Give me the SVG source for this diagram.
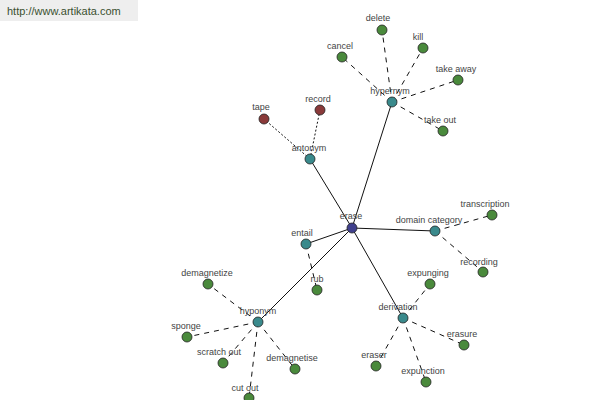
<svg xmlns="http://www.w3.org/2000/svg" width="600" height="400" viewBox="0 0 600 400">
<style>
text{font-family:"Liberation Sans",Arial,sans-serif;font-size:9px;fill:#444;text-anchor:middle}
.hdr{font-size:11px;fill:#3a5030;text-anchor:start}
circle{stroke:#222;stroke-width:0.8}
.root{fill:#40408c}
.hub{fill:#3a8a8c}
.leaf{fill:#4a8a3c}
.ant{fill:#8a3a3a}
.solid{stroke:#111;stroke-width:1;fill:none}
.dash{stroke:#111;stroke-width:1;stroke-dasharray:5,5;fill:none}
.dot{stroke:#111;stroke-width:1;stroke-dasharray:2,2;fill:none}
</style>
<rect width="600" height="400" fill="#fff"/>
<rect x="0" y="0" width="138" height="21" fill="#eeeeee"/>
<text class="hdr" x="7" y="15">http://www.artikata.com</text>
<g id="connectors">
<line class="solid" x1="352" y1="228" x2="392" y2="102"/>
<line class="solid" x1="352" y1="228" x2="310" y2="159"/>
<line class="solid" x1="352" y1="228" x2="435" y2="231"/>
<line class="solid" x1="352" y1="228" x2="306" y2="244"/>
<line class="solid" x1="352" y1="228" x2="258" y2="322"/>
<line class="solid" x1="352" y1="228" x2="403" y2="318"/>
<line class="dash" x1="392" y1="102" x2="382" y2="30"/>
<line class="dash" x1="392" y1="102" x2="423" y2="48"/>
<line class="dash" x1="392" y1="102" x2="342" y2="57"/>
<line class="dash" x1="392" y1="102" x2="458" y2="80"/>
<line class="dash" x1="392" y1="102" x2="443" y2="131"/>
<line class="dot" x1="310" y1="159" x2="264" y2="119"/>
<line class="dot" x1="310" y1="159" x2="320" y2="110"/>
<line class="dash" x1="435" y1="231" x2="492" y2="215"/>
<line class="dash" x1="435" y1="231" x2="483" y2="272"/>
<line class="dash" x1="306" y1="244" x2="317" y2="290"/>
<line class="dash" x1="258" y1="322" x2="208" y2="284"/>
<line class="dash" x1="258" y1="322" x2="187" y2="337"/>
<line class="dash" x1="258" y1="322" x2="223" y2="363"/>
<line class="dash" x1="258" y1="322" x2="295" y2="369"/>
<line class="dash" x1="258" y1="322" x2="249" y2="398"/>
<line class="dash" x1="403" y1="318" x2="430" y2="284"/>
<line class="dash" x1="403" y1="318" x2="464" y2="345"/>
<line class="dash" x1="403" y1="318" x2="376" y2="366"/>
<line class="dash" x1="403" y1="318" x2="426" y2="382"/>
</g>
<g id="erase"><circle class="root" cx="352" cy="228" r="5"/><text x="351" y="219">erase</text></g>
<g id="hypernym"><circle class="hub" cx="392" cy="102" r="5"/><text x="390" y="94">hypernym</text></g>
<g id="antonym"><circle class="hub" cx="310" cy="159" r="5"/><text x="309" y="151">antonym</text></g>
<g id="domain_category"><circle class="hub" cx="435" cy="231" r="5"/><text x="429" y="223">domain category</text></g>
<g id="entail"><circle class="hub" cx="306" cy="244" r="5"/><text x="302" y="236">entail</text></g>
<g id="hyponym"><circle class="hub" cx="258" cy="322" r="5"/><text x="258" y="314">hyponym</text></g>
<g id="derivation"><circle class="hub" cx="403" cy="318" r="5"/><text x="398" y="310">derivation</text></g>
<g id="delete"><circle class="leaf" cx="382" cy="30" r="5"/><text x="378" y="21">delete</text></g>
<g id="kill"><circle class="leaf" cx="423" cy="48" r="5"/><text x="418" y="40">kill</text></g>
<g id="cancel"><circle class="leaf" cx="342" cy="57" r="5"/><text x="340" y="49">cancel</text></g>
<g id="take_away"><circle class="leaf" cx="458" cy="80" r="5"/><text x="456" y="72">take away</text></g>
<g id="take_out"><circle class="leaf" cx="443" cy="131" r="5"/><text x="440" y="123">take out</text></g>
<g id="tape"><circle class="ant" cx="264" cy="119" r="5"/><text x="261" y="110">tape</text></g>
<g id="record"><circle class="ant" cx="320" cy="110" r="5"/><text x="318" y="102">record</text></g>
<g id="transcription"><circle class="leaf" cx="492" cy="215" r="5"/><text x="485" y="207">transcription</text></g>
<g id="recording"><circle class="leaf" cx="483" cy="272" r="5"/><text x="479" y="265">recording</text></g>
<g id="rub"><circle class="leaf" cx="317" cy="290" r="5"/><text x="317" y="282">rub</text></g>
<g id="demagnetize"><circle class="leaf" cx="208" cy="284" r="5"/><text x="207" y="276">demagnetize</text></g>
<g id="sponge"><circle class="leaf" cx="187" cy="337" r="5"/><text x="186" y="329">sponge</text></g>
<g id="scratch_out"><circle class="leaf" cx="223" cy="363" r="5"/><text x="219" y="355">scratch out</text></g>
<g id="demagnetise"><circle class="leaf" cx="295" cy="369" r="5"/><text x="292" y="361">demagnetise</text></g>
<g id="cut_out"><circle class="leaf" cx="249" cy="398" r="5"/><text x="245" y="391">cut out</text></g>
<g id="expunging"><circle class="leaf" cx="430" cy="284" r="5"/><text x="428" y="276">expunging</text></g>
<g id="erasure"><circle class="leaf" cx="464" cy="345" r="5"/><text x="462" y="337">erasure</text></g>
<g id="eraser"><circle class="leaf" cx="376" cy="366" r="5"/><text x="374" y="358">eraser</text></g>
<g id="expunction"><circle class="leaf" cx="426" cy="382" r="5"/><text x="423" y="374">expunction</text></g>
</svg>
